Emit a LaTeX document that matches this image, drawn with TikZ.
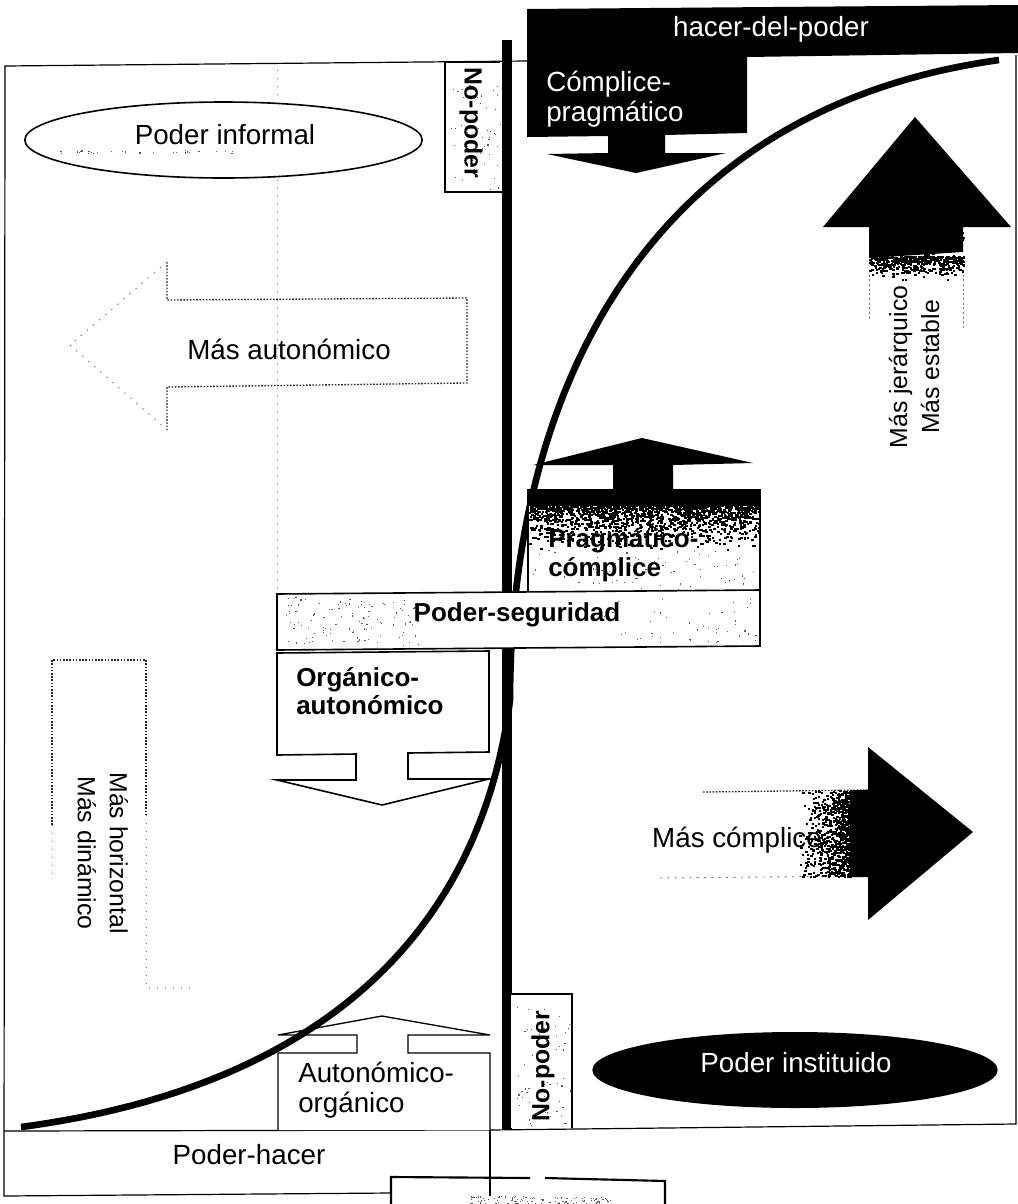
\documentclass[tikz,border=0pt]{standalone}
\usepackage{fontspec}
\setmainfont{Liberation Sans}
\usetikzlibrary{shapes.geometric}
\newcommand{\speck}[5]{\foreach \i in {1,...,#5}{\pgfmathsetmacro\xa{#1+rnd*(#3-#1)}\pgfmathsetmacro\ya{#2+rnd*(#4-#2)}\fill[black!65] (\xa,\ya) rectangle +(1.2,1.2);}}
\newcommand{\dithy}[5]{\foreach \i in {1,...,#5}{\pgfmathsetmacro\xa{#1+rnd*(#2-#1)}\pgfmathsetmacro\ya{#3+(#4-#3)*rnd*rnd}\fill[black] (\xa,\ya) rectangle +(2.4,2);}}
\newcommand{\dithx}[5]{\foreach \i in {1,...,#5}{\pgfmathsetmacro\ya{#1+rnd*(#2-#1)}\pgfmathsetmacro\xa{#3+(#4-#3)*rnd*rnd}\fill[black] (\xa,\ya) rectangle +(2.4,2);}}
\tikzset{
  x=0.75pt,y=-0.75pt,
  frameline/.style={draw=black,line width=0.9pt},
  boxline/.style={draw=black,line width=1.2pt,fill=white},
  blackshape/.style={fill=black,draw=none},
  dotline/.style={draw=black!85,line width=1pt,dash pattern=on 1.2pt off 1.2pt},
  faintline/.style={draw=black!55,line width=0.7pt,dash pattern=on 1pt off 5pt},
  label/.style={inner sep=0pt,font=\fontsize{20.8pt}{22pt}\selectfont,align=left},
  labelb/.style={inner sep=0pt,align=left,font=\fontsize{19.5pt}{21.5pt}\selectfont\bfseries},
  vlabel/.style={inner sep=0pt,font=\fontsize{18.6pt}{24pt}\selectfont,align=center},
  vlabelb/.style={vlabel,font=\fontsize{18.6pt}{24pt}\selectfont\bfseries},
}
\begin{document}
\begin{tikzpicture}
\pgfmathsetseed{4711}
\useasboundingbox (0,0) rectangle (1018,1204);
\fill[white] (0,0) rectangle (1018,1204);

% frame
\draw[frameline] (527,61) -- (5,66) -- (4,1196) -- (391,1193);
\draw[frameline] (4,1131) -- (490,1130) -- (1016,1124) -- (1016,55);
\draw[frameline] (490,1130) -- (490,1196);
\draw[line width=1.6pt] (391,1204) -- (391,1177) -- (530,1178) (545,1178) -- (665,1181) -- (665,1204);
% illegible stamp remains
\speck{470}{1196}{610}{1204}{110}

% faint dotted guide
\draw[faintline] (277,70) -- (277,100);
\draw[faintline] (277,180) -- (277,592);
\draw[faintline,draw=black!40] (50,154) -- (190,152);

% dotted arrow: left
\draw[dotline] (167,262) -- (167,300) -- (467,298) -- (467,383) -- (167,387) -- (167,430);
\draw[faintline] (167,262) -- (70,345) -- (167,430);
% dotted arrow: down
\draw[dotline] (52,825) -- (52,660) -- (146,660) -- (146,815);
\draw[faintline] (52,825) -- (52,875);
\draw[faintline] (146,815) -- (146,988) -- (190,988);
% dotted stem of right arrow
\draw[dotline] (703,792) -- (868,790);
\draw[faintline,dash pattern=on 1.5pt off 4pt] (660,878) -- (868,876);
% dotted stem of up arrow
\draw[faintline,dash pattern=on 1.5pt off 2pt] (869,270) -- (869,320);
\draw[faintline,dash pattern=on 1.5pt off 2pt] (963,270) -- (963,330);

% main black rule
\fill[black] (502,40) rectangle (512,1130);

% outline arrow below (under curve)
\draw[boxline,line width=1pt] (278,1130) -- (278,1053) -- (357,1053) -- (357,1035) -- (278,1035) -- (382,1016) -- (490,1035) -- (408,1035) -- (408,1053) -- (490,1053) -- (490,1130);

% curve
\draw[line width=5pt,line cap=butt] (21,1127) .. controls (300,1090) and (478,950) .. (510,700) .. controls (510,400) and (640,110) .. (999,60);

% top black bar and box
\fill[black] (527,9) -- (1018,5) -- (1018,53) -- (747,57) -- (747,133) -- (665,135) -- (665,153) -- (726,153) -- (636,173) -- (547,154) -- (608,153) -- (608,136) -- (527,137) -- cycle;

% top no-poder
\draw[boxline] (500,62) -- (445,62) -- (445,192) -- (502,192);
\speck{450}{70}{500}{190}{50}

% bottom no-poder
\draw[boxline] (510,1128) -- (510,994) -- (572,994) -- (572,1128);
\speck{515}{1000}{570}{1125}{60}

% big up arrow
\fill[black] (915,117) -- (1011,227) -- (963,227) -- (963,252) -- (869,258) -- (869,227) -- (823,227) -- cycle;
\fill[black] (869,240) rectangle (963,250);
\dithy{869}{963}{256}{280}{500}
\dithy{915}{963}{228}{262}{120}

% big right arrow
\fill[black] (868,747) -- (973,832) -- (868,920) -- (868,877) -- (850,877) -- (850,790) -- (868,790) -- cycle;
\dithx{790}{876}{850}{795}{800}

% pragmatico arrow and box
\draw[boxline] (528,592) -- (528,490) -- (760,490) -- (760,592);
\fill[black] (528,490) rectangle (760,506);
\fill[black] (613,490) -- (613,465) -- (533,465) -- (642,438) -- (753,463) -- (673,465) -- (673,490) -- cycle;
\dithy{529}{759}{505}{552}{1500}
\speck{532}{550}{758}{590}{70}

% poder-seguridad
\draw[boxline] (277,594) -- (760,590) -- (760,646) -- (277,650) -- cycle;
\speck{282}{597}{420}{645}{110}
\speck{600}{597}{757}{643}{45}

% organico box and outline arrow
\draw[boxline] (277,653) -- (489,651) -- (489,752) -- (408,753) -- (408,779) -- (489,779) -- (382,805) -- (277,780) -- (356,780) -- (356,754) -- (277,755) -- cycle;

% ellipses
\node[ellipse,draw=black,line width=1.2pt,fill=white,minimum width=298pt,minimum height=57pt,inner sep=0pt] (informal) at (223.5,140) {};
\speck{60}{150}{240}{153}{30}
\node[ellipse,blackshape,minimum width=304pt,minimum height=57pt,inner sep=0pt] (instituido) at (795,1070) {};

% labels
\node[label] (tinformal) at (225,135) {Poder informal};
\node[label,text=white] (tinstituido) at (796,1063) {Poder instituido};
\node[label,text=white] (thacer) at (771,29) {hacer-del-poder};
\node[label,text=white,anchor=west] (tcomplice) at (546,99) {Cómplice-\\pragmático};
\node[label] (tauto) at (289,349) {Más autonómico};
\node[labelb] (tseg) at (517,615) {Poder-seguridad};
\node[labelb,anchor=west] (tprag) at (548,555) {Pragmático-\\cómplice};
\node[labelb,anchor=west] (torg) at (296,691) {Orgánico-\\autonómico};
\node[label,anchor=west] (taut) at (298,1090) {Autonómico-\\orgánico};
\node[label] (tph) at (249,1155) {Poder-hacer};
\node[label] (tcomp) at (737,840) {Más cómplice};
\node[vlabelb,rotate=-90] (tnp1) at (471,123) {No-poder};
\node[vlabelb,rotate=90] (tnp2) at (543,1066) {No-poder};
\node[vlabel,rotate=90] (tjer) at (914,367) {Más jerárquico\\Más estable};
\node[vlabel,rotate=-90] (thor) at (103,853) {Más horizontal\\Más dinámico};
\end{tikzpicture}
\end{document}
